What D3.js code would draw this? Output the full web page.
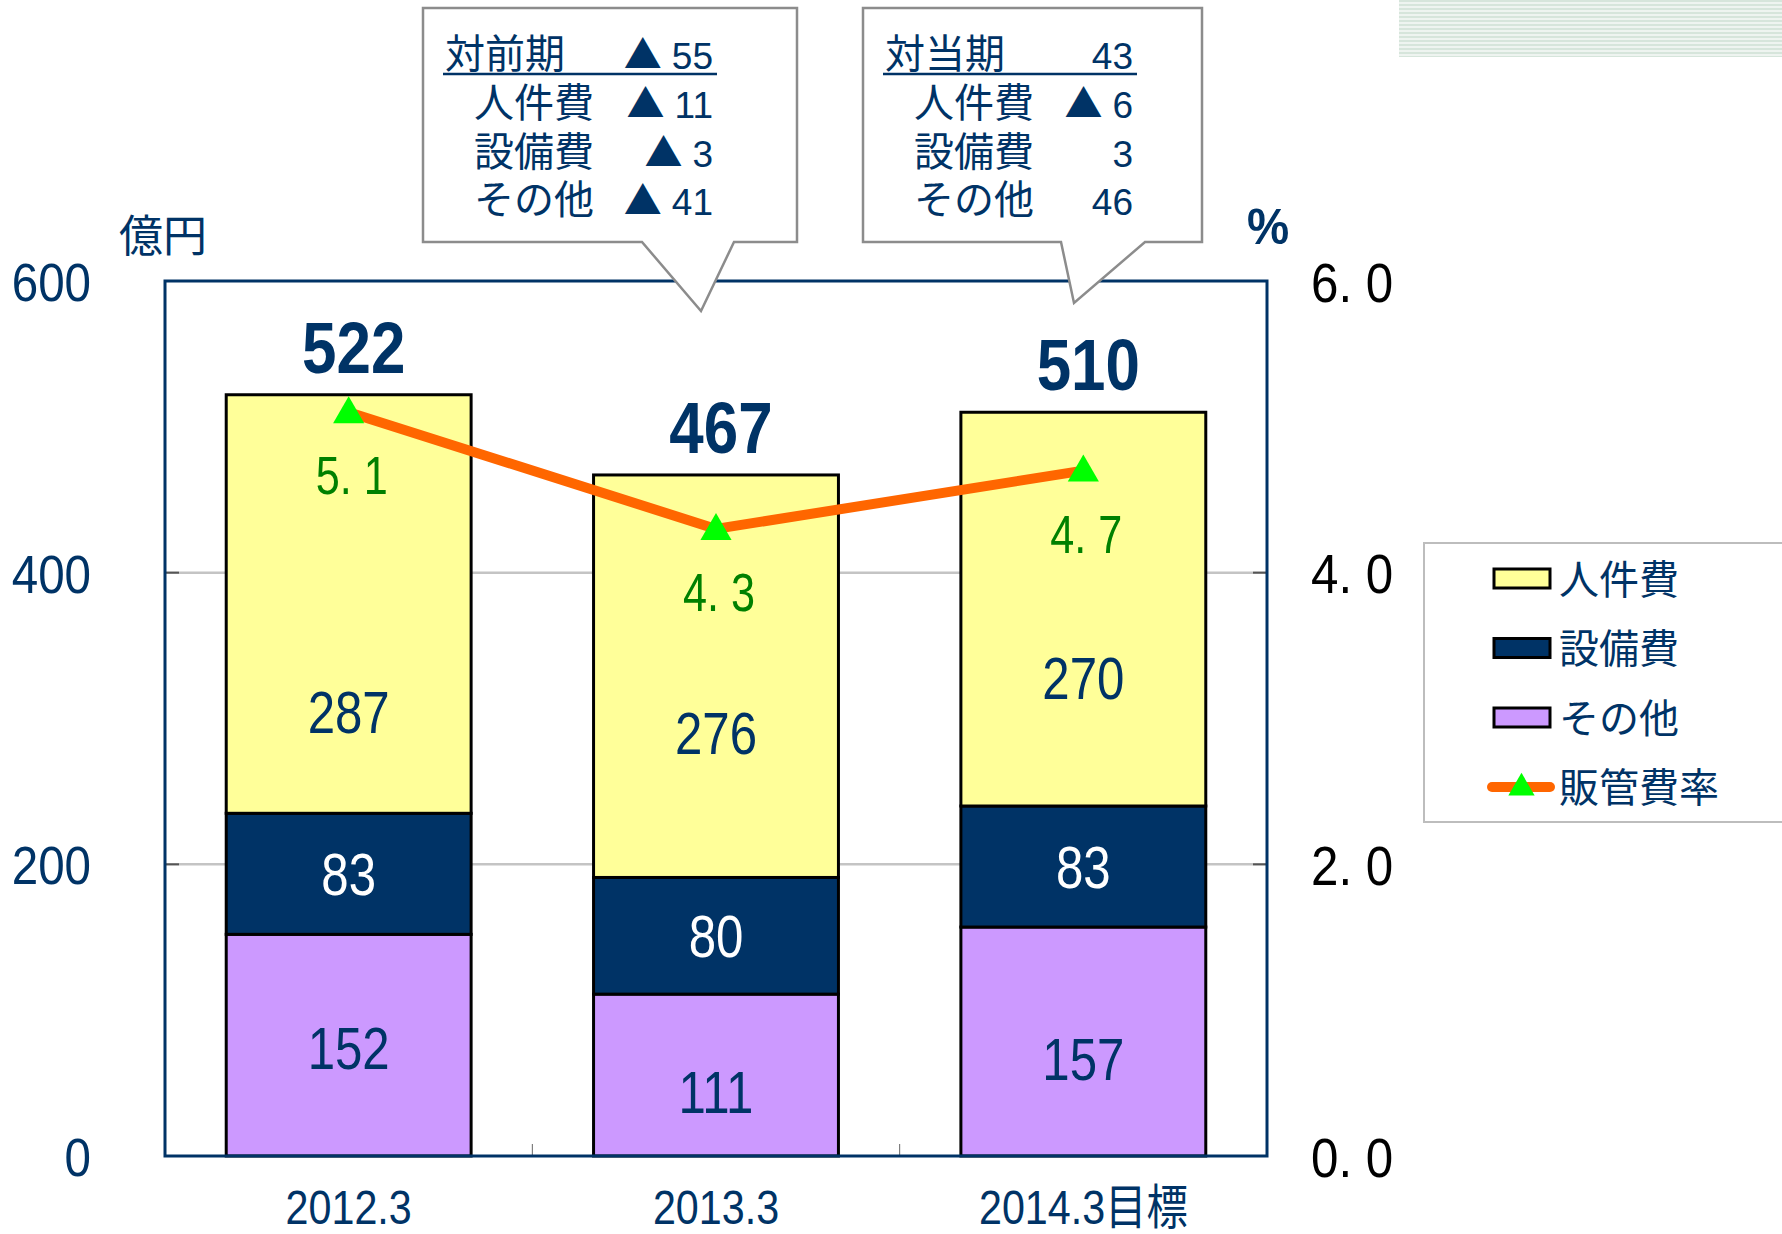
<!DOCTYPE html>
<html>
<head>
<meta charset="utf-8">
<script src="https://cdn.jsdelivr.net/npm/d3@7"></script>
<style>
  body { margin: 0; background: #fff; }
  svg { display: block; }
</style>
</head>
<body>
<div id="chart"></div>
<script>
// data
const categories = ["2012.3", "2013.3", "2014.3目標"];
const sonota = [152, 111, 157];    // その他
const setsubi = [83, 80, 83];      // 設備費
const jinken = [287, 276, 270];    // 人件費
const ratio = [5.1, 4.3, 4.7];     // 販管費率 (%)
const leftTicks = [0, 200, 400, 600];
const rightTicks = [0, 2, 4, 6];
const legendNames = ["人件費", "設備費", "その他", "販管費率"];
const calloutTitles = ["対前期", "対当期"];

const width = 1782, height = 1234;
const plot = { left: 165, right: 1267, top: 281, bottom: 1156 };
const navy = "#003366";
const sansFont = "'Liberation Sans', 'Noto Sans CJK JP', sans-serif";
const cjkFont = "'Noto Sans CJK JP', sans-serif";

const svg = d3.select("#chart").append("svg")
  .attr("width", width)
  .attr("height", height)
  .attr("viewBox", `0 0 ${width} ${height}`);

// text helper, narrow type is done with a horizontal scale
const txt = (g, x, y, s, o = {}) => g.append("text")
  .attr("transform", `translate(${x},${y}) scale(${o.sx ?? 1},1)`)
  .attr("text-anchor", o.anchor ?? "middle")
  .attr("font-family", o.font ?? sansFont)
  .attr("font-size", o.size ?? 40)
  .attr("font-weight", o.weight ?? "normal")
  .attr("fill", o.fill ?? navy)
  .text(s);

// "6. 0" style decimals, like the half-width gothic in the slide
const fmtDec = d => d.toFixed(1).replace(".", ". ");

// striped decoration in the top-right corner
const defs = svg.append("defs");
const pat = defs.append("pattern")
  .attr("id", "stripes")
  .attr("width", 8).attr("height", 4)
  .attr("patternUnits", "userSpaceOnUse");
pat.append("rect").attr("width", 8).attr("height", 4).attr("fill", "#eef4f0");
pat.append("rect").attr("width", 8).attr("height", 2).attr("fill", "#d6e5db");
svg.append("rect")
  .attr("x", 1399).attr("y", 0)
  .attr("width", width - 1399).attr("height", 57)
  .attr("fill", "url(#stripes)");

// scales
const x = d3.scaleBand()
  .domain(categories)
  .range([plot.left, plot.right])
  .paddingInner(1 / 3)
  .paddingOuter(1 / 6);

const y = d3.scaleLinear().domain([0, 600]).range([plot.bottom, plot.top]);
const y2 = d3.scaleLinear().domain([0, 6]).range([plot.bottom, plot.top]);

// gridlines
svg.append("g")
  .selectAll("line")
  .data(leftTicks.filter(d => d > 0 && d < 600))
  .join("line")
    .attr("x1", plot.left).attr("x2", plot.right)
    .attr("y1", d => y(d)).attr("y2", d => y(d))
    .attr("stroke", "#c4c4c4")
    .attr("stroke-width", 2.5);

// inner tick marks on both sides
svg.append("g")
  .selectAll("line")
  .data(leftTicks)
  .join("line")
    .attr("x1", plot.left).attr("x2", plot.left + 14)
    .attr("y1", d => y(d)).attr("y2", d => y(d))
    .attr("stroke", "#555").attr("stroke-width", 2);
svg.append("g")
  .selectAll("line")
  .data(rightTicks)
  .join("line")
    .attr("x1", plot.right - 14).attr("x2", plot.right)
    .attr("y1", d => y2(d)).attr("y2", d => y2(d))
    .attr("stroke", "#555").attr("stroke-width", 2);

// category separator ticks on the bottom axis
svg.append("g")
  .selectAll("line")
  .data(categories.slice(1))
  .join("line")
    .attr("x1", d => x(d) - x.step() * x.paddingInner() / 2)
    .attr("x2", d => x(d) - x.step() * x.paddingInner() / 2)
    .attr("y1", plot.bottom - 12).attr("y2", plot.bottom)
    .attr("stroke", "#666").attr("stroke-width", 1);

// stacked bars
const table = categories.map((c, i) => ({ cat: c, sonota: sonota[i], setsubi: setsubi[i], jinken: jinken[i] }));
const keys = ["sonota", "setsubi", "jinken"];
const fills = { sonota: "#cc99ff", setsubi: "#003366", jinken: "#ffff99" };
const stacked = d3.stack().keys(keys)(table);

const bars = svg.append("g");
stacked.forEach(layer => {
  bars.append("g")
    .selectAll("rect")
    .data(layer)
    .join("rect")
      .attr("x", d => x(d.data.cat))
      .attr("y", d => y(d[1]))
      .attr("width", x.bandwidth())
      .attr("height", d => y(d[0]) - y(d[1]))
      .attr("fill", fills[layer.key])
      .attr("stroke", "#000")
      .attr("stroke-width", 3);
});

// plot frame
svg.append("rect")
  .attr("x", plot.left).attr("y", plot.top)
  .attr("width", plot.right - plot.left)
  .attr("height", plot.bottom - plot.top)
  .attr("fill", "none")
  .attr("stroke", navy)
  .attr("stroke-width", 3);

// left axis
const axL = svg.append("g")
  .attr("transform", `translate(91,0)`)
  .call(d3.axisLeft(y).tickValues(leftTicks).tickSize(0).tickPadding(0));
axL.select(".domain").remove();
axL.selectAll("text")
  .attr("font-family", sansFont)
  .attr("font-size", 54)
  .attr("fill", navy)
  .attr("dy", "0.36em")
  .attr("transform", "scale(0.88,1)");

// right axis
const axR = svg.append("g")
  .attr("transform", `translate(1311,0)`)
  .call(d3.axisRight(y2).tickValues(rightTicks).tickSize(0).tickPadding(0)
    .tickFormat(fmtDec));
axR.select(".domain").remove();
axR.selectAll("text")
  .attr("font-family", sansFont)
  .attr("font-size", 56)
  .attr("fill", "#000")
  .attr("dy", "0.36em")
  .attr("transform", "scale(0.88,1)");

// axis unit labels
txt(svg, 119, 252, "億円", { anchor: "start", font: cjkFont, size: 44 });
txt(svg, 1247, 244, "%", { anchor: "start", size: 50, weight: "bold", sx: 0.95 });

// category labels
categories.forEach(c => {
  txt(svg, x(c) + x.bandwidth() / 2, 1224, c, { size: 48, sx: 0.86 });
});

// segment labels (nudged as in the original slide)
const labelNudge = { sonota: [3, 17, 17], setsubi: [0, 0, 0], jinken: [108, 57, 69] };
const labelFill = { sonota: navy, setsubi: "#fff", jinken: navy };
stacked.forEach(layer => {
  layer.forEach((d, i) => {
    const cy = y((d[0] + d[1]) / 2) + labelNudge[layer.key][i];
    txt(svg, x(d.data.cat) + x.bandwidth() / 2, cy + 21, d[1] - d[0],
      { size: 60, sx: 0.82, fill: labelFill[layer.key] });
  });
});

// totals above bars
table.forEach(d => {
  const total = d.sonota + d.setsubi + d.jinken;
  txt(svg, x(d.cat) + x.bandwidth() / 2 + 5, y(total) - 22, total,
    { size: 72, sx: 0.86, weight: "bold" });
});

// ratio line
const cx = c => x(c) + x.bandwidth() / 2;
const lineGen = d3.line().x((d, i) => cx(categories[i])).y(d => y2(d));
svg.append("path")
  .datum(ratio)
  .attr("d", lineGen)
  .attr("fill", "none")
  .attr("stroke", "#ff6600")
  .attr("stroke-width", 10)
  .attr("stroke-linejoin", "round");

const tri = d3.symbol().type(d3.symbolTriangle).size(420);
svg.append("g")
  .selectAll("path")
  .data(ratio)
  .join("path")
    .attr("d", tri)
    .attr("transform", (d, i) => `translate(${cx(categories[i])},${y2(d) + 2})`)
    .attr("fill", "#00ff00");

ratio.forEach((v, i) => {
  txt(svg, cx(categories[i]) + 3, y2(v) + 82, fmtDec(v),
    { size: 54, sx: 0.8, fill: "#008000" });
});

// callouts: change against the previous column
const callouts = [
  { cur: 1, prev: 0, box: [423, 8, 374, 234], tip: [701, 311], base: [642, 734], numX: 713 },
  { cur: 2, prev: 1, box: [863, 8, 339, 234], tip: [1074, 303], base: [1061, 1145], numX: 1133 }
];
const fmtDiff = v => (v < 0 ? "▲" : "") + "|" + Math.abs(v);
const rowBase = [68, 117, 166, 214];

callouts.forEach((c, k) => {
  const [bx, by, bw, bh] = c.box;
  const g = svg.append("g");
  g.append("path")
    .attr("d", `M${bx},${by} H${bx + bw} V${by + bh} H${c.base[1]} L${c.tip[0]},${c.tip[1]} L${c.base[0]},${by + bh} H${bx} Z`)
    .attr("fill", "#fff")
    .attr("stroke", "#8c8c8c")
    .attr("stroke-width", 2.5);

  const totCur = sonota[c.cur] + setsubi[c.cur] + jinken[c.cur];
  const totPrev = sonota[c.prev] + setsubi[c.prev] + jinken[c.prev];
  const rows = [
    [calloutTitles[k], totCur - totPrev],
    [legendNames[0], jinken[c.cur] - jinken[c.prev]],
    [legendNames[1], setsubi[c.cur] - setsubi[c.prev]],
    [legendNames[2], sonota[c.cur] - sonota[c.prev]]
  ];
  rows.forEach((r, i) => {
    const lx = bx + (i === 0 ? 22 : 51);
    txt(g, lx, rowBase[i], r[0], { anchor: "start", font: cjkFont, size: 40 });
    const [mark, num] = fmtDiff(r[1]).split("|");
    const n = txt(g, c.numX, rowBase[i] + 1, num, { anchor: "end", size: 37 });
    const w = n.node().getComputedTextLength();
    if (mark) txt(g, c.numX - w - 10, rowBase[i], mark, { anchor: "end", font: cjkFont, size: 38 });
  });
  g.append("line")
    .attr("x1", bx + 20).attr("x2", c.numX + 4)
    .attr("y1", 74).attr("y2", 74)
    .attr("stroke", navy).attr("stroke-width", 2.5);
});

// legend
const lg = svg.append("g");
lg.append("rect")
  .attr("x", 1424).attr("y", 543)
  .attr("width", 400).attr("height", 279)
  .attr("fill", "#fff")
  .attr("stroke", "#bdbdbd")
  .attr("stroke-width", 2);

const legendFills = [fills.jinken, fills.setsubi, fills.sonota];
legendNames.forEach((name, i) => {
  const cy = 578.5 + i * 69.5;
  if (i < 3) {
    lg.append("rect")
      .attr("x", 1494).attr("y", cy - 9.5)
      .attr("width", 56).attr("height", 19)
      .attr("fill", legendFills[i])
      .attr("stroke", "#000")
      .attr("stroke-width", 3);
  } else {
    lg.append("line")
      .attr("x1", 1492).attr("x2", 1550)
      .attr("y1", cy).attr("y2", cy)
      .attr("stroke", "#ff6600")
      .attr("stroke-width", 10)
      .attr("stroke-linecap", "round");
    lg.append("path")
      .attr("d", d3.symbol().type(d3.symbolTriangle).size(300))
      .attr("transform", `translate(1521.5,${cy + 1})`)
      .attr("fill", "#00ff00");
  }
  txt(lg, 1559, cy + 15, name, { anchor: "start", font: cjkFont, size: 40 });
});
</script>
</body>
</html>
